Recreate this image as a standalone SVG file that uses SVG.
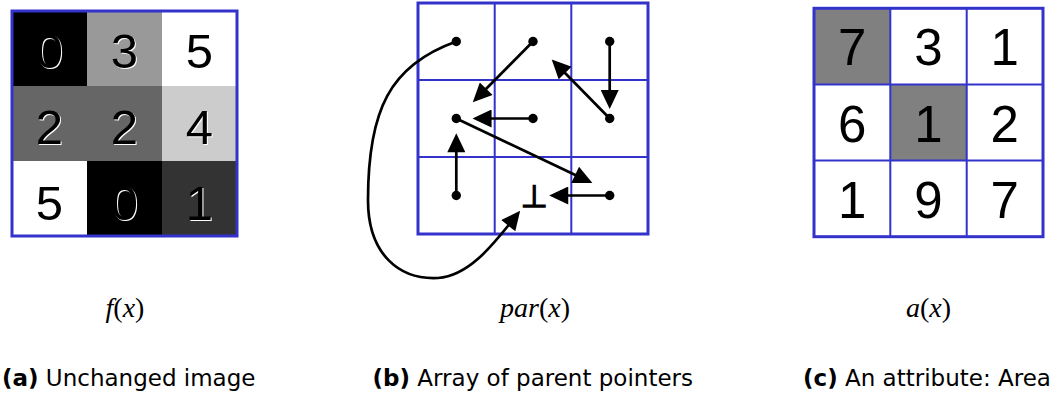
<svg xmlns="http://www.w3.org/2000/svg" width="1058" height="394" viewBox="0 0 1058 394">
  <style>
    .frame { fill: none; stroke: #3333cc; stroke-width: 3; }
    .grid { stroke: #3333cc; stroke-width: 2; fill: none; }
    .dig { font-family: "Liberation Sans", Arial, sans-serif; text-anchor: middle; fill: #000; }
    .da { font-size: 49px; }
    .dc { font-size: 51px; }
    .sh { fill: #fff; }
    .math { font-family: "Liberation Serif", "Times New Roman", serif; font-size: 28px; text-anchor: middle; fill: #000; }
    .it { font-style: italic; }
    .cap { font-family: "DejaVu Sans", sans-serif; font-size: 23px; fill: #000; }
    .b { font-weight: bold; }
    .dot { fill: #000; }
    .arr { stroke: #000; stroke-width: 2.7; fill: none; marker-end: url(#ah); }
  </style>
  <defs>
    <marker id="ah" markerUnits="userSpaceOnUse" markerWidth="20" markerHeight="18" viewBox="0 0 18 17" refX="4" refY="8.5" orient="auto">
      <path d="M0,0 L18,8.5 L0,17 z" fill="#000"/>
    </marker>
  </defs>
  <rect width="1058" height="394" fill="#fff"/>

  <!-- Panel a -->
  <g id="panel-a">
    <rect x="12" y="11" width="75" height="75" fill="#000"/>
    <rect x="87" y="11" width="75" height="75" fill="#999999"/>
    <rect x="162" y="11" width="75" height="75" fill="#ffffff"/>
    <rect x="12" y="86" width="75" height="75" fill="#666666"/>
    <rect x="87" y="86" width="75" height="75" fill="#666666"/>
    <rect x="162" y="86" width="75" height="75" fill="#cccccc"/>
    <rect x="12" y="161" width="75" height="75" fill="#ffffff"/>
    <rect x="87" y="161" width="75" height="75" fill="#000"/>
    <rect x="162" y="161" width="75" height="75" fill="#333333"/>
    <rect class="frame" x="12" y="11" width="225" height="225"/>
    <g class="dig da sh">
      <text x="50.5" y="69">0</text><text x="125.5" y="69">3</text><text x="200.5" y="69">5</text>
      <text x="50.5" y="145">2</text><text x="125.5" y="145">2</text><text x="200.5" y="145">4</text>
      <text x="50.5" y="221">5</text><text x="125.5" y="221">0</text><text x="200.5" y="221">1</text>
    </g>
    <g class="dig da">
      <text x="49.5" y="68">0</text><text x="124.5" y="68">3</text><text x="199.5" y="68">5</text>
      <text x="49.5" y="144">2</text><text x="124.5" y="144">2</text><text x="199.5" y="144">4</text>
      <text x="49.5" y="220">5</text><text x="124.5" y="220">0</text><text x="199.5" y="220">1</text>
    </g>
    <text class="math" x="125" y="317"><tspan class="it">f</tspan>(<tspan class="it">x</tspan>)</text>
    <text class="cap" x="2" y="386"><tspan class="b">(a)</tspan> Unchanged image</text>
  </g>

  <!-- Panel b -->
  <g id="panel-b">
    <rect class="frame" x="418" y="3" width="230" height="231"/>
    <path class="grid" d="M494.7,3 V234 M571.3,3 V234 M418,80 H648 M418,157 H648"/>
    <g id="nodes-b">
      <circle id="n00" class="dot" cx="456.3" cy="41.5" r="4.7"/>
      <circle id="n01" class="dot" cx="533" cy="41.5" r="4.7"/>
      <circle id="n02" class="dot" cx="609.7" cy="41.5" r="4.7"/>
      <circle id="n10" class="dot" cx="456.3" cy="118.5" r="4.7"/>
      <circle id="n11" class="dot" cx="533" cy="118.5" r="4.7"/>
      <circle id="n12" class="dot" cx="609.7" cy="118.5" r="4.7"/>
      <circle id="n20" class="dot" cx="456.3" cy="195.5" r="4.7"/>
      <text id="n21" x="534" y="207" font-family="DejaVu Sans, sans-serif" font-size="31" text-anchor="middle" fill="#000" stroke="#000" stroke-width="1.3">⊥</text>
      <circle id="n22" class="dot" cx="609.7" cy="195.5" r="4.7"/>
    </g>
    <g id="connectors">
      <line class="arr" x1="533" y1="41.5" x2="483.2" y2="91.8"/>
      <line class="arr" x1="609.7" y1="41.5" x2="609.7" y2="94.3"/>
      <line class="arr" x1="609.7" y1="118.5" x2="562.1" y2="70"/>
      <line class="arr" x1="533" y1="118.5" x2="487.3" y2="118.5"/>
      <line class="arr" x1="456.3" y1="195.5" x2="456.3" y2="148"/>
      <line class="arr" x1="456.3" y1="118.5" x2="579" y2="176.7"/>
      <line class="arr" x1="609.7" y1="195.5" x2="564" y2="195.5"/>
      <path class="arr" d="M456.3,41.5 C390,65 368,110 368,200 C368,255 400,280 438,278 C468,276 492,246 510.9,222.3"/>
    </g>
    <text class="math" x="535" y="317"><tspan class="it">par</tspan>(<tspan class="it">x</tspan>)</text>
    <text class="cap" x="372.5" y="386"><tspan class="b">(b)</tspan> Array of parent pointers</text>
  </g>

  <!-- Panel c -->
  <g id="panel-c">
    <rect x="814" y="8.3" width="76.3" height="76.1" fill="#808080"/>
    <rect x="890.3" y="84.4" width="76.4" height="76.2" fill="#808080"/>
    <rect class="frame" x="814" y="8.3" width="229" height="228.4"/>
    <path class="grid" d="M890.3,8.3 V236.7 M966.7,8.3 V236.7 M814,84.4 H1043 M814,160.6 H1043"/>
    <g class="dig dc">
      <text x="852.2" y="65">7</text><text x="928.5" y="65">3</text><text x="1004.8" y="65">1</text>
      <text x="852.2" y="142">6</text><text x="928.5" y="142">1</text><text x="1004.8" y="142">2</text>
      <text x="852.2" y="218">1</text><text x="928.5" y="218">9</text><text x="1004.8" y="218">7</text>
    </g>
    <text class="math" x="928.5" y="317"><tspan class="it">a</tspan>(<tspan class="it">x</tspan>)</text>
    <text class="cap" x="803" y="386"><tspan class="b">(c)</tspan> An attribute: Area</text>
  </g>
</svg>
